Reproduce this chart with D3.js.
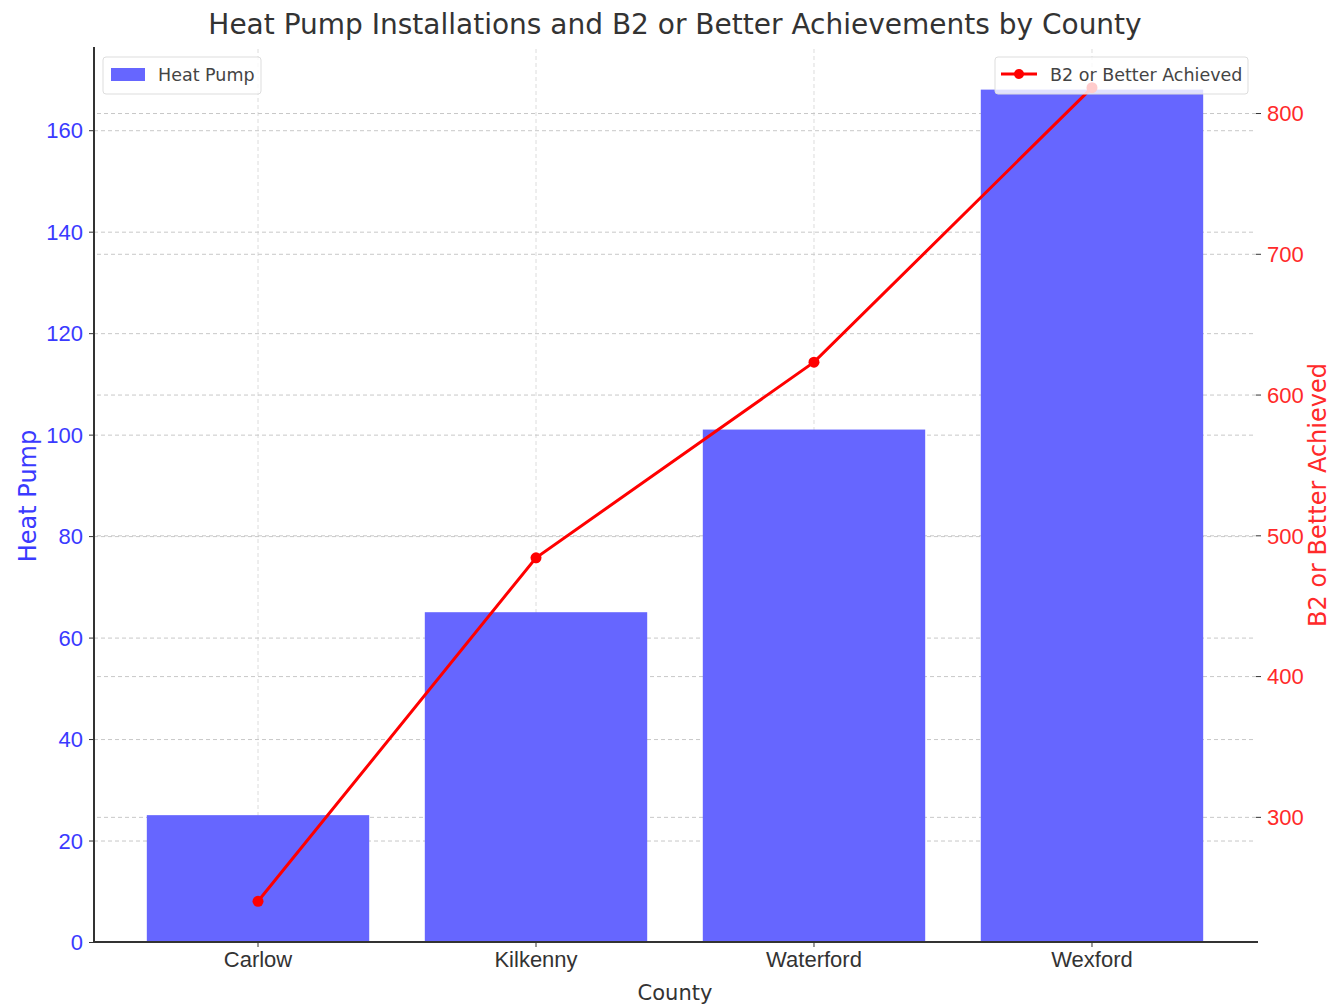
<!DOCTYPE html>
<head>
  <meta charset="utf-8">
  <script src="https://d3js.org/d3.v7.min.js"></script>
  <style>
    body { margin: 0; background: #fff; }
    svg { font-family: "DejaVu Sans", sans-serif; }
    .grid line { stroke: #c8c8c8; stroke-dasharray: 4,3; stroke-width: 1; }
    .grid path { display: none; }
  </style>
</head>
<body>
  <svg id="chart" width="1344" height="1006"></svg>
  <script>
    // data
    var counties = ["Carlow", "Kilkenny", "Waterford", "Wexford"];
    var heatPump = [25, 65, 101, 168];
    var b2Better = [240, 484, 623, 818];
    var leftTicks = [0, 20, 40, 60, 80, 100, 120, 140, 160];
    var rightTicks = [300, 400, 500, 600, 700, 800];

    var svg = d3.select("#chart"),
      pLeft = 94, pRight = 1256, pTop = 47, pBottom = 942;

    var x = d3.scaleBand()
      .domain(counties)
      .range([pLeft, pRight])
      .paddingInner(0.2)
      .paddingOuter(0.19);

    // matplotlib-style 5% margins
    var yL = d3.scaleLinear().domain([0, d3.max(heatPump) * 1.05]).range([pBottom, pTop]);
    var lo = d3.min(b2Better), hi = d3.max(b2Better), m = (hi - lo) * 0.05;
    var yR = d3.scaleLinear().domain([lo - m, hi + m]).range([pBottom, pTop]);

    // grids
    svg.append("g").attr("class", "grid")
      .attr("transform", "translate(0," + pBottom + ")")
      .call(d3.axisBottom(x).tickSize(-(pBottom - pTop)).tickFormat(""))
      .selectAll("line").style("stroke", "#dcdcdc");
    svg.append("g").attr("class", "grid")
      .attr("transform", "translate(" + pLeft + ",0)")
      .call(d3.axisLeft(yL).tickValues(leftTicks.slice(1)).tickSize(-(pRight - pLeft)).tickFormat(""));
    svg.append("g").attr("class", "grid")
      .attr("transform", "translate(" + pRight + ",0)")
      .call(d3.axisRight(yR).tickValues(rightTicks).tickSize(-(pRight - pLeft)).tickFormat(""));

    // bars
    svg.append("g").selectAll("rect")
      .data(counties)
      .enter().append("rect")
      .attr("x", function (d) { return x(d); })
      .attr("width", x.bandwidth())
      .attr("y", function (d, i) { return yL(heatPump[i]); })
      .attr("height", function (d, i) { return pBottom - yL(heatPump[i]); })
      .attr("fill", "#6666ff");

    // line
    var cx = function (d, i) { return x(counties[i]) + x.bandwidth() / 2; };
    svg.append("path")
      .datum(b2Better)
      .attr("fill", "none")
      .attr("stroke", "#ff0000")
      .attr("stroke-width", 3)
      .attr("d", d3.line().x(cx).y(function (d) { return yR(d); }));
    svg.append("g").selectAll("circle")
      .data(b2Better)
      .enter().append("circle")
      .attr("cx", cx)
      .attr("cy", function (d) { return yR(d); })
      .attr("r", 5.5)
      .attr("fill", "#ff0000");

    // axes
    var axL = svg.append("g")
      .attr("transform", "translate(" + pLeft + ",0)")
      .call(d3.axisLeft(yL).tickValues(leftTicks).tickSize(5).tickPadding(6));
    axL.select(".domain").attr("stroke", "#333").attr("stroke-width", 2).attr("d", "M0," + pTop + "V" + pBottom);
    axL.selectAll("line").attr("stroke", "#333");
    axL.selectAll("text").attr("fill", "#3a3aff").style("font-size", "22px").attr("dy", "0.35em");

    var axR = svg.append("g")
      .attr("transform", "translate(" + pRight + ",0)")
      .call(d3.axisRight(yR).tickValues(rightTicks).tickSize(5).tickPadding(6));
    axR.select(".domain").remove();
    axR.selectAll("line").attr("stroke", "#333");
    axR.selectAll("text").attr("fill", "#ff2a2a").style("font-size", "22px").attr("dy", "0.35em");

    var axB = svg.append("g")
      .attr("transform", "translate(0," + pBottom + ")")
      .call(d3.axisBottom(x).tickSize(5).tickPadding(4));
    axB.select(".domain").attr("stroke", "#333").attr("stroke-width", 2).attr("d", "M" + pLeft + ",0H" + (pRight + 2));
    axB.selectAll("line").attr("stroke", "#333");
    axB.selectAll("text").attr("fill", "#333").style("font-size", "22px");

    // titles
    svg.append("text")
      .attr("x", 675).attr("y", 34)
      .attr("text-anchor", "middle")
      .style("font-size", "28px").attr("fill", "#333")
      .text("Heat Pump Installations and B2 or Better Achievements by County");
    svg.append("text")
      .attr("x", 675).attr("y", 1000)
      .attr("text-anchor", "middle")
      .style("font-size", "21px").attr("fill", "#333")
      .text("County");
    svg.append("text")
      .attr("transform", "translate(36,496) rotate(-90)")
      .attr("text-anchor", "middle")
      .style("font-size", "24px").attr("fill", "#3a3aff")
      .text("Heat Pump");
    svg.append("text")
      .attr("transform", "translate(1326,495) rotate(-90)")
      .attr("text-anchor", "middle")
      .style("font-size", "24px").attr("fill", "#ff2a2a")
      .text("B2 or Better Achieved");

    // legends
    var lg1 = svg.append("g").attr("transform", "translate(103,57)");
    lg1.append("rect").attr("width", 158).attr("height", 37).attr("rx", 3)
      .attr("fill", "#fff").attr("fill-opacity", 0.8).attr("stroke", "#ddd");
    lg1.append("rect").attr("x", 8).attr("y", 11).attr("width", 34).attr("height", 13).attr("fill", "#6666ff");
    lg1.append("text").attr("x", 55).attr("y", 24).style("font-size", "17.5px").attr("fill", "#444").text("Heat Pump");

    var lg2 = svg.append("g").attr("transform", "translate(995,57)");
    lg2.append("rect").attr("width", 253).attr("height", 37).attr("rx", 3)
      .attr("fill", "#fff").attr("fill-opacity", 0.8).attr("stroke", "#ddd");
    lg2.append("line").attr("x1", 6).attr("x2", 42).attr("y1", 17).attr("y2", 17)
      .attr("stroke", "#ff0000").attr("stroke-width", 3);
    lg2.append("circle").attr("cx", 24).attr("cy", 17).attr("r", 5).attr("fill", "#ff0000");
    lg2.append("text").attr("x", 55).attr("y", 24).style("font-size", "17.5px").attr("fill", "#444").text("B2 or Better Achieved");
  </script>
</body>
</html>
